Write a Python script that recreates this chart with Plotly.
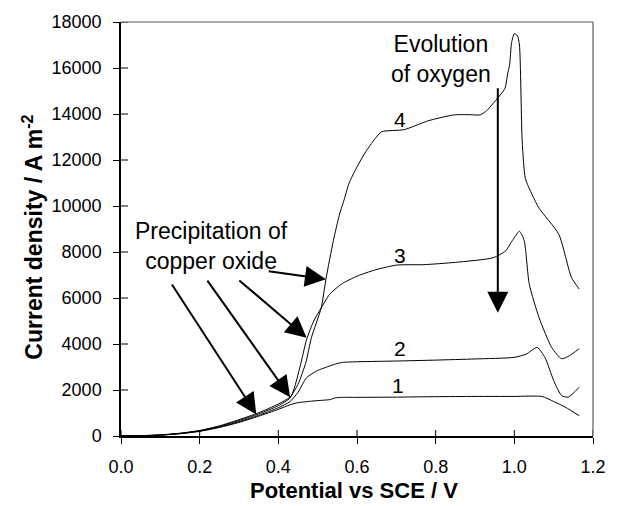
import plotly.graph_objects as go

# Anodic polarisation curves, current density vs potential (4 electrolyte conditions)
pot_1 = [0, 0.05, 0.1, 0.15, 0.2, 0.25, 0.3, 0.35, 0.4, 0.43, 0.45, 0.47, 0.5, 0.53,
         0.545, 0.56, 0.6, 0.7, 0.8, 0.9, 1.0, 1.07, 1.1, 1.13, 1.165]
cur_1 = [0, 10, 35, 100, 200, 370, 590, 860, 1160, 1360, 1450, 1490, 1540, 1580,
         1660, 1680, 1680, 1690, 1710, 1720, 1720, 1720, 1500, 1250, 880]

pot_2 = [0, 0.05, 0.1, 0.15, 0.2, 0.25, 0.3, 0.35, 0.4, 0.43, 0.45, 0.472, 0.5, 0.52,
         0.545, 0.563, 0.605, 0.7, 0.8, 0.9, 1.0, 1.03, 1.058, 1.078, 1.1, 1.12,
         1.137, 1.165]
cur_2 = [0, 12, 40, 105, 215, 390, 620, 900, 1230, 1500, 1900, 2540, 2850, 2980,
         3130, 3200, 3230, 3260, 3300, 3350, 3420, 3560, 3850, 3410, 2410, 1760,
         1690, 2120]

pot_3 = [0, 0.05, 0.1, 0.15, 0.2, 0.25, 0.3, 0.35, 0.4, 0.43, 0.44, 0.455, 0.472,
         0.49, 0.509, 0.53, 0.56, 0.6, 0.646, 0.7, 0.77, 0.85, 0.946, 0.978, 0.995,
         1.013, 1.025, 1.038, 1.063, 1.095, 1.12, 1.14, 1.165]
cur_3 = [0, 14, 45, 115, 230, 420, 670, 960, 1320, 1650, 2050, 3000, 4200,
         5000, 5570, 6150, 6600, 6950, 7220, 7430, 7450, 7550, 7750, 8050, 8500,
         8900, 8500, 6600, 5140, 3850, 3360, 3490, 3800]

pot_4 = [0, 0.05, 0.1, 0.15, 0.2, 0.25, 0.3, 0.35, 0.4, 0.43, 0.45, 0.47, 0.484,
         0.509, 0.521, 0.54, 0.555, 0.566, 0.58, 0.6, 0.62, 0.646, 0.663, 0.72,
         0.78, 0.846, 0.888, 0.913, 0.93, 0.946, 0.976, 0.983, 0.988, 0.993, 1.0,
         1.008, 1.013, 1.02, 1.028, 1.045, 1.063, 1.113, 1.145, 1.165]
cur_4 = [0, 15, 48, 120, 240, 440, 710, 1010, 1390, 1700, 2250, 3200, 4270,
         5570, 6820, 8500, 9600, 10200, 11000, 11700, 12300, 12930, 13230, 13320,
         13700, 13960, 13970, 13960, 14150, 14460, 15110, 15750, 16140, 17100, 17490,
         17400, 17000, 12800, 11200, 10500, 9900, 8770, 6900, 6390]

curve_labels = ["1", "2", "3", "4"]
label_pot = [0.704, 0.709, 0.709, 0.709]
label_cur = [2200, 3790, 7860, 13750]

x_ticks = [0.0, 0.2, 0.4, 0.6, 0.8, 1.0, 1.2]
y_ticks = [0, 2000, 4000, 6000, 8000, 10000, 12000, 14000, 16000, 18000]

# Arrow annotations: (tip potential, tip current, tail potential, tail current)
precip_tips_x = [0.521, 0.472, 0.43, 0.344]
precip_tips_y = [6820, 4270, 1690, 940]
precip_tails_x = [0.372, 0.297, 0.217, 0.127]
precip_tails_y = [7170, 6820, 6820, 6650]
oxygen_tip = (0.958, 5360)
oxygen_tail = (0.958, 15190)

FONT = "Liberation Sans, Arial, sans-serif"

fig = go.Figure()
for px_, cy in [(pot_1, cur_1), (pot_2, cur_2), (pot_3, cur_3), (pot_4, cur_4)]:
    fig.add_trace(go.Scatter(x=px_, y=cy, mode="lines",
                             line=dict(color="black", width=1, shape="spline", smoothing=0.6),
                             showlegend=False, hoverinfo="skip"))

annotations = []
for t, lx, ly in zip(curve_labels, label_pot, label_cur):
    annotations.append(dict(x=lx, y=ly, xref="x", yref="y", text=t, showarrow=False,
                            font=dict(family=FONT, size=21, color="black")))

annotations.append(dict(x=0.2295, y=8257, xref="x", yref="y",
                        text="Precipitation of<br>copper oxide", showarrow=False,
                        font=dict(family=FONT, size=23, color="black")))
annotations.append(dict(x=0.813, y=16400, xref="x", yref="y",
                        text="Evolution<br>of oxygen", showarrow=False,
                        font=dict(family=FONT, size=23, color="black")))

for tx, ty, ax_, ay_ in zip(precip_tips_x, precip_tips_y, precip_tails_x, precip_tails_y):
    annotations.append(dict(x=tx, y=ty, ax=ax_, ay=ay_, xref="x", yref="y",
                            axref="x", ayref="y", text="", showarrow=True,
                            arrowhead=2, arrowsize=2.1, arrowwidth=2,
                            arrowcolor="black", standoff=0))
annotations.append(dict(x=oxygen_tip[0], y=oxygen_tip[1], ax=oxygen_tail[0], ay=oxygen_tail[1],
                        xref="x", yref="y", axref="x", ayref="y", text="", showarrow=True,
                        arrowhead=2, arrowsize=2.1, arrowwidth=2, arrowcolor="black",
                        standoff=0))

# axis titles
annotations.append(dict(x=(358 - 121) / 481, y=(436 - 491) / 416, xref="paper", yref="paper",
                        text="<b>Potential vs SCE / V</b>", showarrow=False,
                        font=dict(family=FONT, size=22, color="black"),
                        xanchor="center", yanchor="middle"))
annotations.append(dict(x=(31 - 121) / 481, y=(436 - 236) / 416, xref="paper", yref="paper",
                        text="<b>Current density / A m<sup>-2</sup></b>", showarrow=False,
                        textangle=-90, font=dict(family=FONT, size=23, color="black"),
                        xanchor="center", yanchor="middle"))

shapes = []
# inner halves of the crossing tick marks
for xv in x_ticks:
    shapes.append(dict(type="line", xref="x", yref="y", x0=xv, x1=xv, ysizemode="pixel",
                       yanchor=0, y0=0, y1=6, line=dict(color="black", width=1)))
for yv in y_ticks:
    shapes.append(dict(type="line", xref="x", yref="y", y0=yv, y1=yv, xsizemode="pixel",
                       xanchor=0, x0=0, x1=7, line=dict(color="black", width=1)))
# top and right frame lines
shapes.append(dict(type="line", xref="paper", yref="paper", x0=0, x1=1, y0=1, y1=1,
                   line=dict(color="#5a5a5a", width=1.2)))
shapes.append(dict(type="line", xref="paper", yref="paper", x0=1, x1=1, y0=0, y1=1,
                   line=dict(color="#5a5a5a", width=1.2)))

fig.update_layout(
    width=618, height=506,
    margin=dict(l=121, r=16, t=20, b=70),
    paper_bgcolor="white", plot_bgcolor="white",
    annotations=annotations, shapes=shapes,
    xaxis=dict(range=[0, 1.2], tickvals=x_ticks, ticktext=[f"{v:.1f}" for v in x_ticks],
               ticks="outside", ticklen=6, tickcolor="black", tickwidth=1,
               showline=True, linecolor="black", linewidth=1.5, showgrid=False,
               zeroline=False, tickfont=dict(family=FONT, size=18, color="black"),
               ticklabelstandoff=8),
    yaxis=dict(range=[0, 18000], tickvals=y_ticks, ticktext=[str(v) for v in y_ticks],
               ticks="outside", ticklen=6, tickcolor="black", tickwidth=1,
               showline=True, linecolor="black", linewidth=1.5, showgrid=False,
               zeroline=False, tickfont=dict(family=FONT, size=18, color="black"),
               ticklabelstandoff=8),
)

fig.write_html("out.html")
